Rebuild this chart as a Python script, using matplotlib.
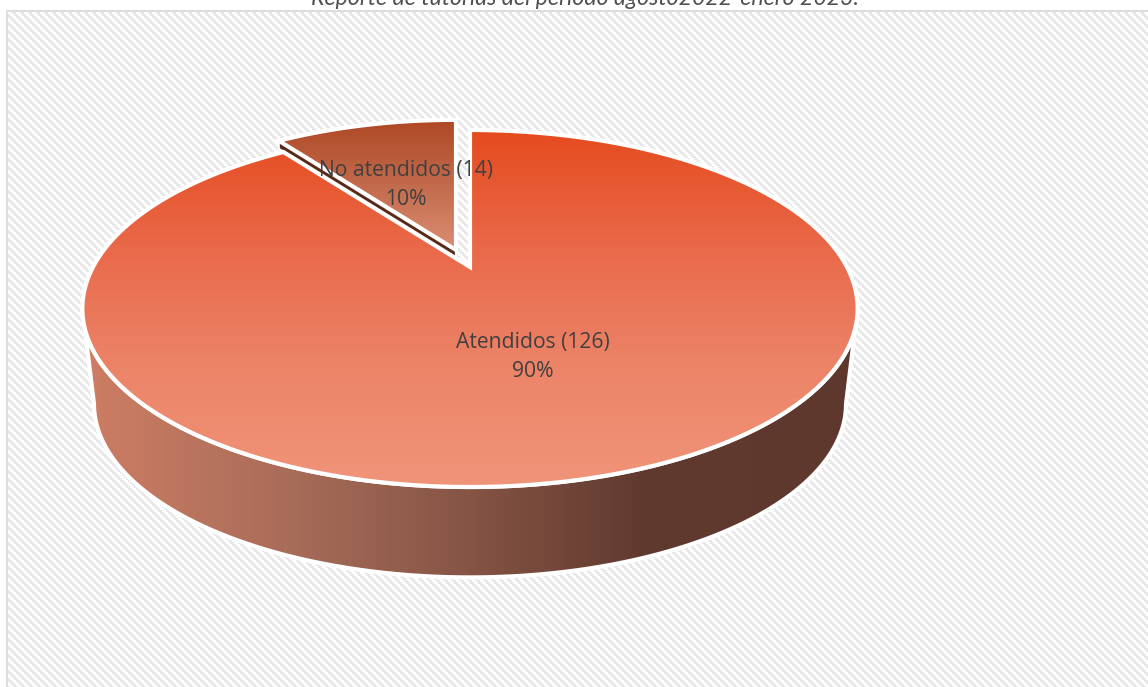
import numpy as np
import matplotlib
matplotlib.use("Agg")
import matplotlib.pyplot as plt
from matplotlib.colors import LinearSegmentedColormap
from matplotlib.patches import Polygon

# datos
categorias = ["Atendidos", "No atendidos"]
valores = [126, 14]
titulo = "Reporte de tutorías del período agosto2022-enero 2023."

W, H = 1148, 687
fig = plt.figure(figsize=(W / 100, H / 100), dpi=100)
ax = fig.add_axes([0, 0, 1, 1])
ax.set_xlim(0, W)
ax.set_ylim(H, 0)
ax.axis("off")

# fondo rayado
yy, xx = np.mgrid[0:H, 0:W]
rayas = (((xx // 2) * 2 - (yy // 2) * 2) % 8) < 4
fondo = np.where(rayas, 0.91, 1.0)
fondo[:10, :] = 1.0
fondo[:, :6] = 1.0
ax.imshow(fondo, cmap="gray", vmin=0, vmax=1, extent=(0, W, H, 0), interpolation="nearest", zorder=0)
ax.plot([7, 7, W], [H, 11, 11], color="#DDDDDD", lw=1.5, zorder=1)
ax.set_xlim(0, W)
ax.set_ylim(H, 0)

# perspectiva del disco
P = 0.2325
RX, RY = 377, 168.85


def disco(t, x0=470, y0=267, esc=1.0):
    s = esc / (1 + P * np.cos(t))
    return x0 + RX * np.sin(t) * s, y0 - RY * np.cos(t) * s


def degradado(poly, colores, vertical=True, z=2):
    x0, y0 = poly.get_xy().min(axis=0)
    x1, y1 = poly.get_xy().max(axis=0)
    cmap = LinearSegmentedColormap.from_list("g", colores)
    g = np.linspace(0, 1, 256)
    g = g[:, None] if vertical else g[None, :]
    im = ax.imshow(g, cmap=cmap, vmin=0, vmax=1, extent=(x0, x1, y1, y0), aspect="auto", zorder=z)
    poly.set_transform(ax.transData)
    im.set_clip_path(poly)
    ax.add_patch(Polygon(poly.get_xy(), closed=True, fc="none", ec="white", lw=3, zorder=z + 0.1, joinstyle="miter"))


total = sum(valores)
ang = 2 * np.pi * valores[0] / total

# pared lateral
t_l = np.arccos(-P)
t = np.linspace(t_l, 2 * np.pi - t_l, 300)
xa, ya = disco(t)
xb, yb = disco(t[::-1], y0=364, esc=0.97)
pared = Polygon(np.r_[np.c_[xa, ya], np.c_[xb, yb]], closed=True)
degradado(pared, [(0, "#CE7E64"), (0.28, "#A66B58"), (0.5, "#855445"), (0.72, "#613A2F"), (1, "#5E382D")],
          vertical=False, z=2)

# rebanada No atendidos
t2 = np.linspace(ang, 2 * np.pi, 80)
ax0, ay0, e2 = 456, 250, 0.95
x2, y2 = disco(t2, ax0, ay0, e2)
canto = Polygon([[ax0, ay0], [x2[0], y2[0]], [x2[0], y2[0] + 8], [ax0, ay0 + 8]], closed=True,
                fc="#5A2A18", ec="white", lw=1.5, zorder=3)
ax.add_patch(canto)
peq = Polygon(np.r_[[[ax0, ay0]], np.c_[x2, y2]], closed=True)
degradado(peq, ["#AE4824", "#C26A4C", "#DC8D72"], z=4)

# rebanada Atendidos
t1 = np.linspace(0, ang, 400)
x1, y1 = disco(t1)
gran = Polygon(np.r_[[[470, 267]], np.c_[x1, y1]], closed=True)
degradado(gran, ["#E54B1E", "#E9694A", "#EC8468", "#F09479"], z=5)

# etiquetas
pos_etq = [(533, 357), (406, 185)]
for c, v, (px, py) in zip(categorias, valores, pos_etq):
    ax.text(px, py, f"{c} ({v})\n{round(v / total * 100)}%", ha="center", va="center", fontsize=15.2,
            family="Open Sans", color="#404040", linespacing=1.55, zorder=8)

ax.text(584.5, 5, titulo, ha="center", va="baseline", fontsize=16.7, family="Lato", style="italic",
        color="#505050", zorder=8, clip_on=False)

fig.savefig("out.png", dpi=100)
